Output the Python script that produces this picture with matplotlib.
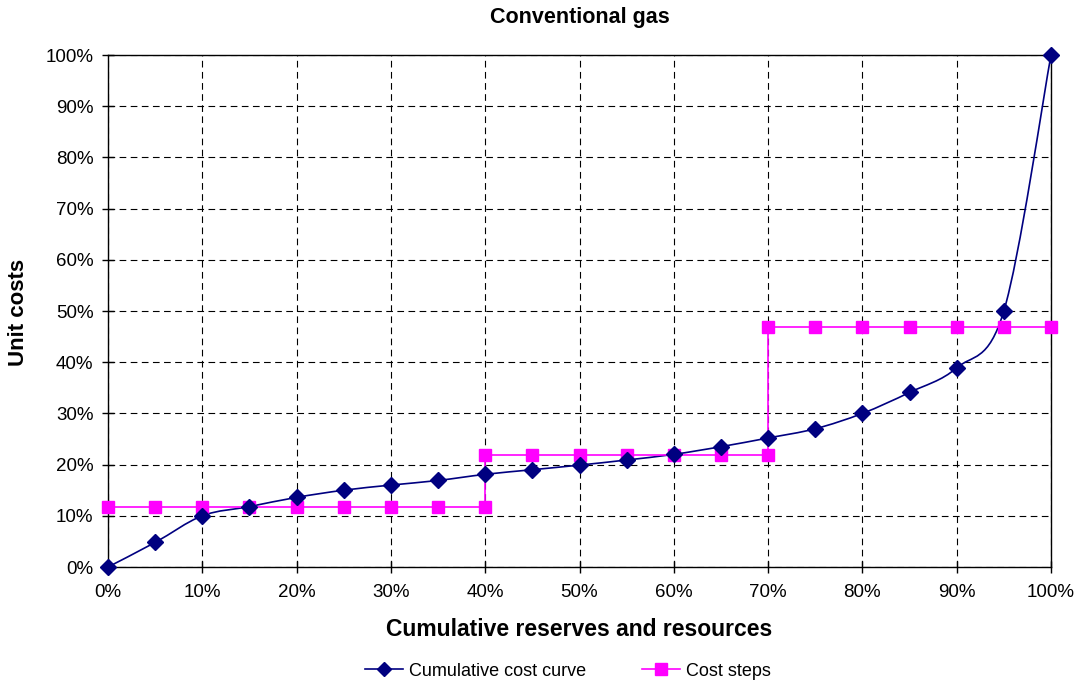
import numpy as np
import matplotlib
matplotlib.use("Agg")
import matplotlib.pyplot as plt
from matplotlib.path import Path
from matplotlib.patches import PathPatch
from matplotlib.lines import Line2D
from matplotlib.ticker import PercentFormatter, MultipleLocator

plt.rcParams['font.family'] = ['Liberation Sans', 'DejaVu Sans']

# Data (in %)
curve_x = [0, 5, 10, 15, 20, 25, 30, 35, 40, 45, 50, 55, 60, 65, 70, 75, 80, 85, 90, 95, 100]
curve_y = [0, 4.8, 10.0, 11.8, 13.6, 15.0, 16.0, 16.9, 18.1, 19.0, 19.9, 20.9, 22.0, 23.5, 25.2, 27.0, 30.0, 34.1, 38.9, 50.0, 100.0]

steps_x = [0, 5, 10, 15, 20, 25, 30, 35, 40, 40, 45, 50, 55, 60, 65, 70, 70, 75, 80, 85, 90, 95, 100]
steps_y = [11.7] * 9 + [21.9] * 7 + [46.8] * 7

title = "Conventional gas"
xlabel = "Cumulative reserves and resources"
ylabel = "Unit costs"
curve_name = "Cumulative cost curve"
steps_name = "Cost steps"

navy = "#000080"
magenta = "#FF00FF"

W, H = 1084, 684
fig = plt.figure(figsize=(W / 100, H / 100), dpi=100)
L, R, T, B = 108, 1051, 55, 567
ax = fig.add_axes([L / W, 1 - B / H, (R - L) / W, (B - T) / H])

ax.set_xlim(0, 100)
ax.set_ylim(0, 100)
ax.xaxis.set_major_locator(MultipleLocator(10))
ax.yaxis.set_major_locator(MultipleLocator(10))
ax.xaxis.set_major_formatter(PercentFormatter(decimals=0))
ax.yaxis.set_major_formatter(PercentFormatter(decimals=0))
ax.grid(True, color="black", linestyle=(0, (6, 4)), linewidth=0.8)
ax.set_axisbelow(True)
ax.tick_params(direction="inout", length=9, width=1, labelsize=13.5)
ax.tick_params(axis="x", pad=8)
ax.tick_params(axis="y", pad=6)
for s in ax.spines.values():
    s.set_color("black")
    s.set_linewidth(1.0)

# Smoothed curve (Bezier through data points, like Excel smoothing)
px = np.array(curve_x, float)
py = np.array(curve_y, float)
n = len(px)
verts = [(px[0], py[0])]
codes = [Path.MOVETO]
t = 1.0 / 6.0
for i in range(n - 1):
    p0 = np.array([px[max(i - 1, 0)], py[max(i - 1, 0)]])
    p1 = np.array([px[i], py[i]])
    p2 = np.array([px[i + 1], py[i + 1]])
    p3 = np.array([px[min(i + 2, n - 1)], py[min(i + 2, n - 1)]])
    c1 = p1 + (p2 - p0) * t
    c2 = p2 - (p3 - p1) * t
    verts += [tuple(c1), tuple(c2), tuple(p2)]
    codes += [Path.CURVE4] * 3
ax.add_patch(PathPatch(Path(verts, codes), facecolor="none", edgecolor=navy, lw=1.2, zorder=3))
ax.plot(curve_x, curve_y, linestyle="none", marker="D", color=navy, markersize=8, zorder=4, clip_on=False)

ax.plot(steps_x, steps_y, color=magenta, lw=1.2, marker="s", markersize=8.5, zorder=3, clip_on=False)

fig.text((L + R) / 2 / W, 1 - 18 / H, title, fontsize=15.5, fontweight="bold", ha="center", va="center")
fig.text((L + R) / 2 / W, 1 - 630 / H, xlabel, fontsize=16.5, fontweight="bold", ha="center", va="center")
fig.text(19 / W, 1 - 312 / H, ylabel, fontsize=16, fontweight="bold", ha="center", va="center", rotation=90)

handles = [
    Line2D([], [], color=navy, lw=1.2, marker="D", markersize=7.5, label=curve_name),
    Line2D([], [], color=magenta, lw=1.2, marker="s", markersize=8.5, label=steps_name),
]
fig.legend(handles=handles, loc="center", bbox_to_anchor=(568 / W, 1 - 671 / H), ncol=2, frameon=False,
           fontsize=13, handlelength=2.1, columnspacing=3.1, handletextpad=0.35, borderpad=0)

fig.savefig("out.png", dpi=100)
